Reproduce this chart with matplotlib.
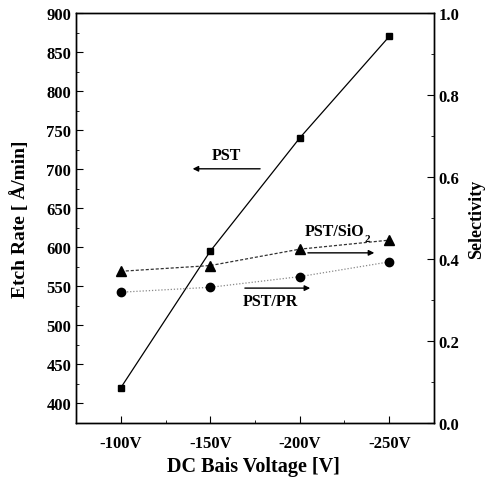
import matplotlib
matplotlib.use("Agg")
import matplotlib.pyplot as plt
from matplotlib.ticker import MultipleLocator

categories = ["-100V", "-150V", "-200V", "-250V"]
pst_rate = [420, 595, 740, 870]
sel_sio2 = [0.370, 0.384, 0.424, 0.446]
sel_pr = [0.319, 0.331, 0.357, 0.393]

plt.rcParams['font.family'] = ['Liberation Serif', 'DejaVu Serif']
plt.rcParams['font.weight'] = 'bold'

fig = plt.figure(figsize=(4.91, 4.85), dpi=100)
ax = fig.add_axes([0.1548, 0.1258, 0.7291, 0.8453])
x = list(range(1, len(categories) + 1))

ax.plot(x, pst_rate, color='black', lw=0.9, marker='s', ms=4.5, zorder=3)
ax.set_xlim(0.5, 4.5)
ax.set_ylim(375, 900)
ax.set_xticks(x)
ax.set_xticklabels(categories)
ax.xaxis.set_minor_locator(MultipleLocator(0.5))
ax.yaxis.set_major_locator(MultipleLocator(50))
ax.yaxis.set_minor_locator(MultipleLocator(25))
ax.tick_params(axis='both', which='major', direction='in', length=5, labelsize=12, top=False)
ax.tick_params(axis='both', which='minor', direction='in', length=2.5, top=False)
ax.tick_params(axis='x', pad=9)
for lab in ax.get_xticklabels() + ax.get_yticklabels():
    lab.set_fontweight('bold')
ax.set_ylabel('Etch Rate [ Å/min]', fontsize=14, fontweight='bold')
ax.yaxis.set_label_coords(-0.132, 0.5)
ax.set_xlabel('DC Bais Voltage [V]', fontsize=14.5, fontweight='bold')
ax.xaxis.set_label_coords(0.497, -0.08)

ax2 = ax.twinx()
ax2.plot(x, sel_sio2, color='#333333', lw=0.9, ls=(0, (2.5, 1.5)), marker='^', ms=6.5,
         mfc='black', mec='black', zorder=3)
ax2.plot(x, sel_pr, color='#888888', lw=0.9, ls=(0, (1, 1.5)), marker='o', ms=6,
         mfc='black', mec='black', zorder=3)
ax2.set_ylim(0, 1.0)
ax2.yaxis.set_major_locator(MultipleLocator(0.2))
ax2.yaxis.set_minor_locator(MultipleLocator(0.1))
ax2.tick_params(axis='y', which='major', direction='in', length=5, labelsize=12)
ax2.tick_params(axis='y', which='minor', direction='in', length=2.5)
ax2.set_yticklabels([f"{v:.1f}" for v in ax2.get_yticks()], fontweight='bold')
ax2.set_ylabel('Selectivity', fontsize=13, fontweight='bold', labelpad=6)

for a in (ax, ax2):
    for s in a.spines.values():
        s.set_linewidth(1.0)

arrow = dict(arrowstyle='-|>', color='black', lw=1.0, mutation_scale=8)
ax.annotate('', xy=(0.318, 0.620), xytext=(0.522, 0.620), xycoords='axes fraction',
            arrowprops=arrow)
ax.text(0.419, 0.633, 'PST', transform=ax.transAxes, ha='center', va='bottom',
        fontsize=11.5, fontweight='bold')
ax.annotate('', xy=(0.841, 0.415), xytext=(0.640, 0.415), xycoords='axes fraction',
            arrowprops=arrow)
ax.text(0.805, 0.450, 'PST/SiO', transform=ax.transAxes, ha='right',
        va='bottom', fontsize=11.5, fontweight='bold')
ax.text(0.807, 0.440, '2', transform=ax.transAxes, ha='left',
        va='bottom', fontsize=8, fontweight='bold')
ax.annotate('', xy=(0.662, 0.329), xytext=(0.464, 0.329), xycoords='axes fraction',
            arrowprops=arrow)
ax.text(0.542, 0.318, 'PST/PR', transform=ax.transAxes, ha='center', va='top',
        fontsize=11.5, fontweight='bold')

fig.savefig('out.png', dpi=100)
